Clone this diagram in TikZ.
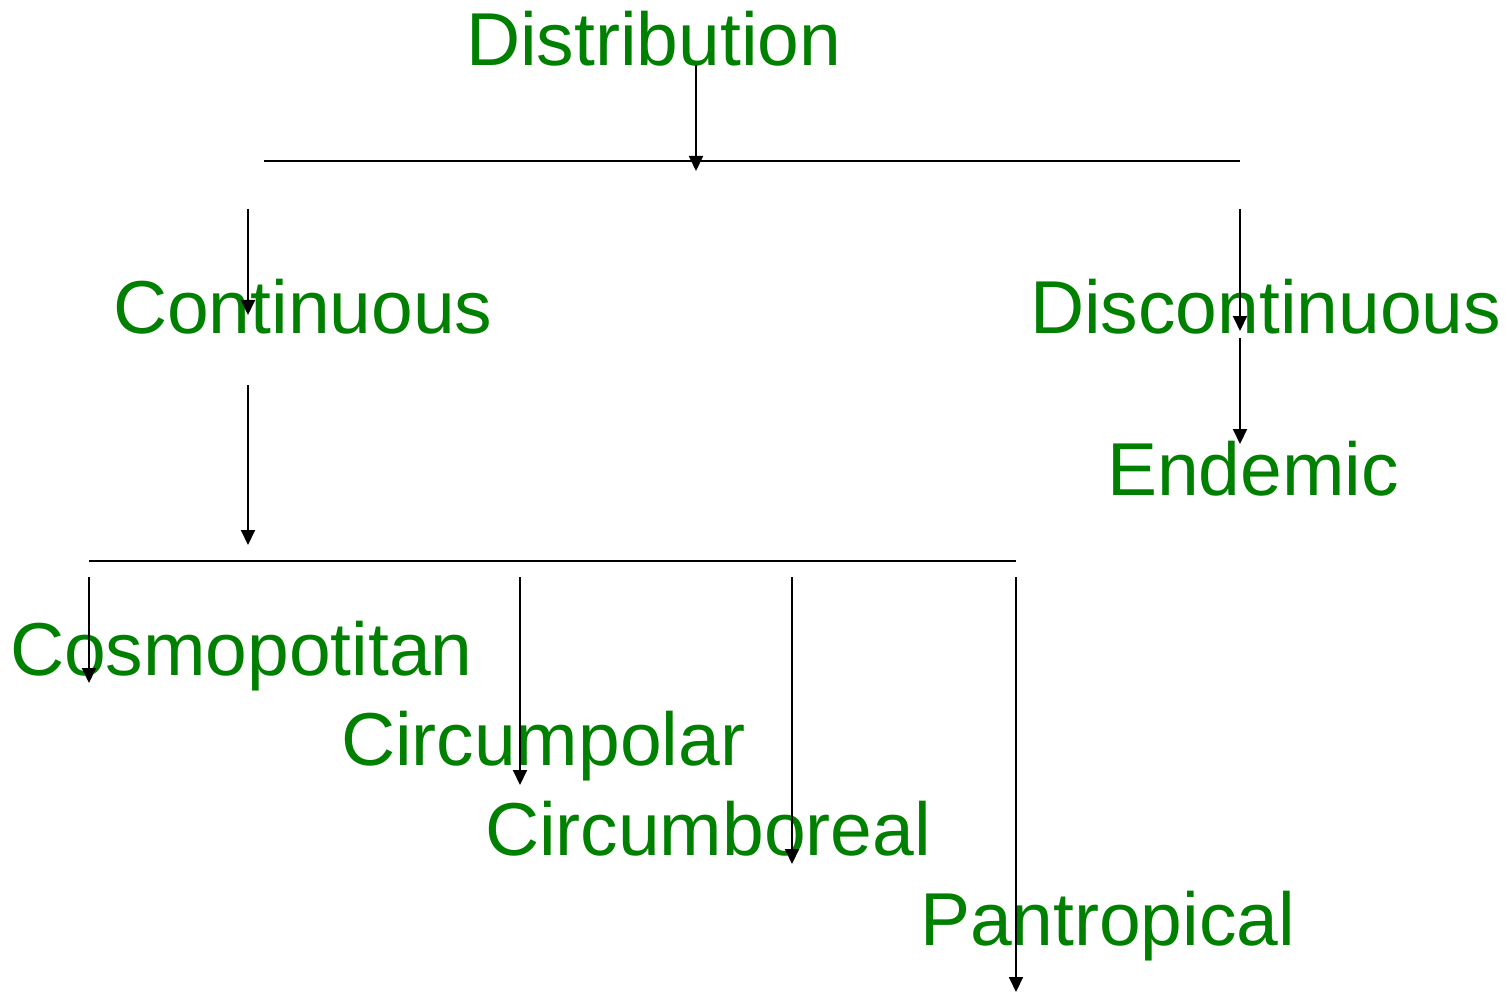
\documentclass[tikz,border=0pt]{standalone}
\usepackage{fontspec}
\setmainfont{Liberation Sans}
\usetikzlibrary{arrows.meta}
\definecolor{leafgreen}{RGB}{0,128,0}
\tikzset{
  term/.style={anchor=base west, inner sep=0pt, outer sep=0pt, text=leafgreen,
    font=\fontsize{75}{80}\selectfont},
  link/.style={line width=2pt, -{Triangle[width=14pt,length=15pt]}},
  bar/.style={line width=2pt}
}
\begin{document}
\begin{tikzpicture}[x=1pt,y=-1pt]
\useasboundingbox (0,0) rectangle (1507,992);
% labels
\node[term] (dist) at (466,66) {Distribution};
\node[term] (cont) at (113,333) {Continuous};
\node[term] (disc) at (1030,333) {Discontinuous};
\node[term] (ende) at (1107,495) {Endemic};
\node[term] (cosm) at (10,675) {Cosmopotitan};
\node[term] (cpol) at (341,765) {Circumpolar};
\node[term] (cbor) at (485,855) {Circumboreal};
\node[term] (pant) at (920,945) {Pantropical};
% connector end points
\coordinate (d0) at (696,65);   \coordinate (d1) at (696,171);
\coordinate (b1l) at (264,161); \coordinate (b1r) at (1240,161);
\coordinate (c0) at (248,209);  \coordinate (c1) at (248,315);
\coordinate (e0) at (1240,209); \coordinate (e1) at (1240,331);
\coordinate (f0) at (1240,338); \coordinate (f1) at (1240,444);
\coordinate (g0) at (248,385);  \coordinate (g1) at (248,545);
\coordinate (b2l) at (89,561);  \coordinate (b2r) at (1016,561);
\coordinate (h0) at (89,577);   \coordinate (h1) at (89,683);
\coordinate (i0) at (520,577);  \coordinate (i1) at (520,785);
\coordinate (j0) at (792,577);  \coordinate (j1) at (792,864);
\coordinate (k0) at (1016,577); \coordinate (k1) at (1016,992);
% connectors
\draw[bar] (b1l) -- (b1r);
\draw[bar] (b2l) -- (b2r);
\draw[link] (d0) -- (d1);
\draw[link] (c0) -- (c1);
\draw[link] (e0) -- (e1);
\draw[link] (f0) -- (f1);
\draw[link] (g0) -- (g1);
\draw[link] (h0) -- (h1);
\draw[link] (i0) -- (i1);
\draw[link] (j0) -- (j1);
\draw[link] (k0) -- (k1);
\end{tikzpicture}
\end{document}
